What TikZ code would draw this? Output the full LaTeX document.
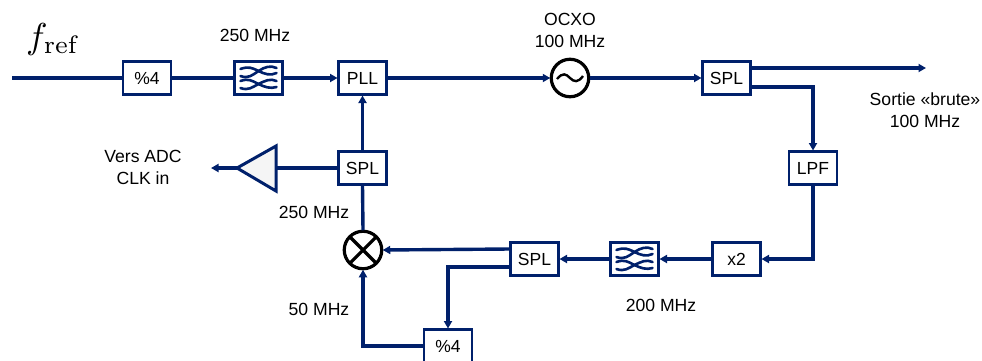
\documentclass[tikz,border=0pt]{standalone}
\usepackage{graphicx}
\usepackage{fontspec}
\setsansfont{Liberation Sans}
\usetikzlibrary{arrows.meta,calc}
\definecolor{navy}{HTML}{00206B}
\tikzset{
  x=1pt,y=-1pt,
  block/.style={draw=navy,line width=2.4pt,fill=white,minimum width=48pt,minimum height=33pt,inner sep=0pt,outer sep=1pt,font=\sffamily\fontsize{17.5pt}{20pt}\selectfont,text=black},
  rond/.style={circle,draw=black,line width=3.2pt,fill=white,minimum size=37.5pt,inner sep=0pt,outer sep=1pt},
  wire/.style={draw=navy,line width=3.4pt},
  arrow/.style={wire,-{Triangle[length=7.5pt,width=8pt]}},
  lbl/.style={font=\sffamily\fontsize{17.6pt}{22pt}\selectfont,text=black,align=center,inner sep=0pt},
  wave/.style={draw=navy,line width=2.6pt,line cap=round}
}
\newcommand{\filtericon}[1]{
  \begin{scope}[shift={(#1)}]
    \draw[wave] (-18,-9) .. controls (-10,-12) and (-6,-10) .. (0,-7) .. controls (6,-4) and (12,-2) .. (18,-5);
    \draw[wave] (-18,-2) .. controls (-10,1) and (-6,-3) .. (0,-7) .. controls (6,-11) and (12,-13) .. (18,-10);
    \draw[wave] (-18,3) .. controls (-10,0) and (-6,3) .. (0,6) .. controls (6,9) and (12,11) .. (18,9);
    \draw[wave] (-18,10) .. controls (-10,13) and (-6,9) .. (0,6) .. controls (6,3) and (12,0) .. (18,3);
  \end{scope}
}
\begin{document}
\begin{tikzpicture}
\useasboundingbox (0,0) rectangle (982,360);
\clip (0,0) rectangle (982,360);
\coordinate (in) at (12,78);
\coordinate (out) at (926,68);
\coordinate (corner1) at (813,87);
\coordinate (corner2) at (813,259);
\coordinate (corner3) at (448,267);
\coordinate (corner4) at (363,346);
\coordinate (ampTip) at (237,168);
\coordinate (ampHi) at (276,146);
\coordinate (ampLo) at (276,191);
\coordinate (ampBase) at (276,168);
\coordinate (adc) at (211,168);

\node[block] (div1) at (147,78) {\%4};
\node[block] (filt1) at (258.5,78) {};
\node[block] (pll) at (362.5,78) {PLL};
\node[rond] (osc) at (570,78) {};
\node[block] (spl1) at (726.5,78) {SPL};
\node[block] (lpf) at (813,168) {LPF};
\node[block] (x2) at (736.5,259) {x2};
\node[block] (filt2) at (634.5,259) {};
\node[block] (spl3) at (534.5,259) {SPL};
\node[block] (div2) at (448,346) {\%4};
\node[block] (spl2) at (362.5,168) {SPL};
\node[rond] (mix) at (363,250) {};

\filtericon{filt1.center}
\filtericon{filt2.center}
\draw[line width=2.4pt,black] ($(osc.center)+(-13,1)$) .. controls ($(osc.center)+(-7,-6)$) and ($(osc.center)+(-4,-4)$) .. (osc.center) .. controls ($(osc.center)+(4,4)$) and ($(osc.center)+(8,5)$) .. ($(osc.center)+(13,-2)$);
\draw[line width=3.2pt,black] (mix.45) -- (mix.225) (mix.135) -- (mix.315);

\draw[draw=navy,line width=3pt,fill=black!4,line join=miter] (ampTip) -- (ampHi) -- (ampLo) -- cycle;

\draw[wire] (in) -- (div1);
\draw[wire] (div1) -- (filt1);
\draw[arrow] (filt1) -- (pll);
\draw[arrow] (pll) -- (osc);
\draw[arrow] (osc) -- (spl1);
\draw[arrow] ([yshift=10pt]spl1.east) -- (out);
\draw[arrow] ([yshift=-9pt]spl1.east) -- (corner1) -- (lpf.north);
\draw[arrow] (lpf.south) -- (corner2) -- (x2.east);
\draw[arrow] (x2) -- (filt2);
\draw[arrow] (filt2) -- (spl3);
\draw[arrow] ([yshift=10pt]spl3.west) -- (mix.center -| mix.east);
\draw[arrow] ([yshift=-8pt]spl3.west) -- (corner3) -- (div2.north);
\draw[arrow] (div2.west) -- (corner4) -- (mix.south);
\draw[wire] (spl2.south) -- (mix.north);
\draw[arrow] (spl2.north) -- (pll.south);
\draw[wire] (spl2.west) -- (ampBase);
\draw[arrow] (ampTip) -- (adc);

\node[inner sep=0pt,anchor=base west] (fref) at (26,48) {\scalebox{3.6}{$f_{\mathrm{ref}}$}};
\node[lbl] (l1) at (255,35) {250 MHz};
\node[lbl] (l2) at (570,30) {OCXO\\100 MHz};
\node[lbl] (l3) at (925,110) {Sortie «brute»\\100 MHz};
\node[lbl] (l4) at (143,167) {Vers ADC\\CLK in};
\node[lbl] (l5) at (314,212) {250 MHz};
\node[lbl] (l6) at (319,309) {50 MHz};
\node[lbl] (l7) at (661,305) {200 MHz};
\end{tikzpicture}
\end{document}
